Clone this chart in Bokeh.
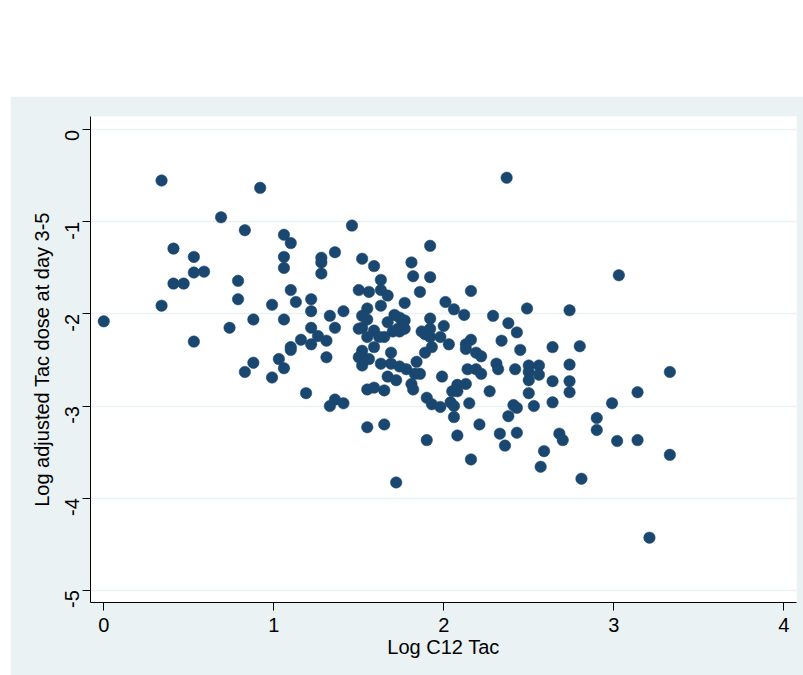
import math
from bokeh.plotting import figure
from bokeh.models import FixedTicker, Range1d, Spacer
from bokeh.layouts import column, row
from bokeh.embed import file_html
from bokeh.resources import INLINE

# Log C12 Tac (x) and Log adjusted Tac dose at day 3-5 (y)
log_c12 = [
    0.00, 0.34, 0.34, 0.41, 0.41, 0.47, 0.53, 0.53, 0.59, 0.53,
    0.69, 0.92, 0.83, 0.79, 0.79, 0.74, 0.88, 0.83, 0.88, 0.99,
    0.99, 1.06, 1.10, 1.06, 1.06, 1.10, 1.13, 1.06, 1.03, 1.06,
    1.10, 1.10, 1.16, 1.22, 1.22, 1.22, 1.22, 1.26, 1.31, 1.28,
    1.28, 1.28, 1.36, 1.46, 1.33, 1.36, 1.31, 1.41, 1.19, 1.33,
    1.36, 1.41,
    1.52, 1.59, 1.63, 1.50, 1.56, 1.63, 1.67, 1.63, 1.55, 1.52,
    1.55, 1.52, 1.59, 1.65, 1.59, 1.55, 1.52, 1.50, 1.52, 1.56,
    1.63, 1.69, 1.67, 1.71, 1.73, 1.74, 1.76, 1.70, 1.62, 1.67,
    1.72, 1.55, 1.59, 1.65, 1.55, 1.65, 1.72, 1.92, 1.81, 1.82,
    1.92, 1.86, 1.77, 1.92, 1.77, 1.92, 2.00, 1.89, 1.98, 2.03,
    1.93, 1.89, 1.84, 1.78, 1.83, 1.86, 1.99, 1.81, 1.82, 1.90,
    1.93, 1.98, 1.90, 1.69, 1.74, 1.74, 1.50, 1.77, 1.87, 1.92,
    2.16, 2.01, 2.06, 2.12, 2.29, 2.38, 2.43, 2.49, 2.74, 3.03,
    2.37, 2.13, 2.16, 2.13, 2.19, 2.22, 2.34, 2.45, 2.64, 2.80,
    2.31, 2.32, 2.42, 2.50, 2.56, 2.50, 2.56, 2.74, 3.33, 2.14,
    2.19, 2.22, 2.04, 2.06, 2.06, 2.05, 2.08, 2.08, 2.13, 2.15,
    2.27, 2.21, 2.08, 2.16, 2.33, 2.36, 2.38, 2.41, 2.43, 2.43,
    2.50, 2.50, 2.53, 2.64, 2.64, 2.74, 2.74, 2.90, 2.90, 2.99,
    3.02, 3.14, 3.14, 3.33, 2.68, 2.70, 2.59, 2.57, 2.81, 3.21,
]
log_dose = [
    -2.08, -0.55, -1.91, -1.29, -1.67, -1.67, -1.38, -1.55, -1.54, -2.30,
    -0.95, -0.63, -1.09, -1.64, -1.84, -2.15, -2.06, -2.63, -2.53, -1.90,
    -2.69, -1.14, -1.23, -1.38, -1.50, -1.74, -1.87, -2.06, -2.49, -2.59,
    -2.36, -2.39, -2.28, -1.84, -1.97, -2.15, -2.33, -2.24, -2.29, -1.39,
    -1.44, -1.56, -1.33, -1.04, -2.02, -2.15, -2.47, -1.97, -2.86, -3.00,
    -2.93, -2.97,
    -1.40, -1.48, -1.63, -1.74, -1.76, -1.74, -1.80, -1.91, -1.94, -2.02,
    -2.06, -2.15, -2.18, -2.25, -2.36, -2.25, -2.40, -2.47, -2.56, -2.49,
    -2.54, -2.42, -2.09, -2.01, -2.16, -2.04, -2.11, -2.19, -2.25, -2.68,
    -2.72, -2.82, -2.80, -2.83, -3.23, -3.20, -3.83, -1.26, -1.44, -1.59,
    -1.60, -1.76, -1.88, -2.05, -2.07, -2.16, -2.13, -2.22, -2.25, -2.33,
    -2.36, -2.42, -2.52, -2.60, -2.65, -2.65, -2.68, -2.76, -2.82, -2.91,
    -2.98, -3.01, -3.37, -2.54, -2.57, -2.19, -2.16, -2.16, -2.19, -2.25,
    -1.75, -1.87, -1.95, -2.01, -2.02, -2.10, -2.20, -1.94, -1.96, -1.58,
    -0.52, -2.33, -2.28, -2.38, -2.42, -2.46, -2.29, -2.39, -2.36, -2.35,
    -2.54, -2.60, -2.60, -2.56, -2.56, -2.63, -2.66, -2.55, -2.63, -2.60,
    -2.60, -2.65, -2.96, -3.00, -3.12, -2.84, -2.84, -2.77, -2.76, -2.97,
    -2.84, -3.20, -3.32, -3.58, -3.30, -3.43, -3.11, -2.99, -3.02, -3.29,
    -2.86, -2.72, -3.00, -2.73, -2.96, -2.73, -2.85, -3.13, -3.26, -2.97,
    -3.38, -3.37, -2.85, -3.53, -3.30, -3.37, -3.49, -3.66, -3.79, -4.43,
]

x_ticks = [0, 1, 2, 3, 4]
x_tick_labels = ["0", "1", "2", "3", "4"]
y_ticks = [0, -1, -2, -3, -4, -5]
y_tick_labels = ["0", "-1", "-2", "-3", "-4", "-5"]
x_title = "Log C12 Tac"
y_title = "Log adjusted Tac dose at day 3-5"

FONT = "Liberation Sans"
REGION = "#eaf2f3"
NAVY = "#1a476f"

p = figure(width=793, height=579, output_backend="svg", toolbar_location=None,
           x_range=Range1d(-0.078, 4.075), y_range=Range1d(-5.134, 0.145),
           min_border_left=80, min_border_right=7, min_border_top=20,
           min_border_bottom=73)
p.background_fill_color = "white"
p.border_fill_color = REGION
p.outline_line_color = None

p.scatter(log_c12, log_dose, size=11.5, fill_color=NAVY, line_color=NAVY,
          line_width=0.5)

p.xgrid.visible = False
p.ygrid.grid_line_color = REGION
p.ygrid.grid_line_width = 1.5

p.xaxis.ticker = FixedTicker(ticks=x_ticks)
p.xaxis.major_label_overrides = {t: l for t, l in zip(x_ticks, x_tick_labels)}
p.yaxis.ticker = FixedTicker(ticks=y_ticks)
p.yaxis.major_label_overrides = {t: l for t, l in zip(y_ticks, y_tick_labels)}
p.yaxis.major_label_orientation = math.pi / 2
p.xaxis.axis_label = x_title
p.yaxis.axis_label = y_title

for ax in (p.xaxis[0], p.yaxis[0]):
    ax.axis_line_color = "black"
    ax.axis_line_width = 1
    ax.major_tick_line_color = "black"
    ax.major_tick_line_width = 1
    ax.major_tick_out = 8
    ax.major_tick_in = 0
    ax.minor_tick_line_color = None
    ax.major_label_text_font = FONT
    ax.major_label_text_font_size = "20px"
    ax.major_label_text_color = "black"
    ax.axis_label_text_font = FONT
    ax.axis_label_text_font_size = "20px"
    ax.axis_label_text_font_style = "normal"
    ax.axis_label_text_color = "black"

p.xaxis.major_label_standoff = 7
p.xaxis.axis_label_standoff = 1
p.yaxis.major_label_standoff = 10
p.yaxis.axis_label_standoff = 3

layout = column(Spacer(width=803, height=96),
                row(Spacer(width=10, height=579), p))

open("out.html", "w").write(file_html(layout, INLINE))
